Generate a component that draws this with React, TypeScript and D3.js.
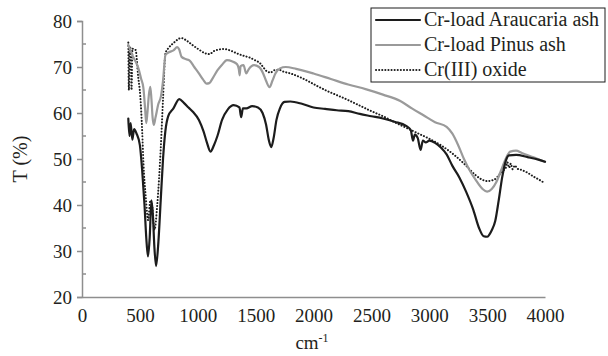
import { useEffect, useRef } from "react";
import * as d3 from "d3";

// [wavenumber (cm-1), transmittance (%)]
const araucariaAsh: [number, number][] = [
  [400, 58.8], [410, 55], [420, 57.8], [435, 54.2], [450, 56.5], [470, 55.6], [500, 53],
  [520, 47.5], [540, 40], [555, 33], [570, 28.8], [585, 33], [600, 41], [612, 38],
  [625, 31], [640, 26.7], [660, 32], [680, 41], [700, 50], [720, 56], [745, 59.3],
  [790, 61], [840, 63], [880, 62.2], [920, 61.2], [960, 60.2], [1010, 58.5], [1050, 56],
  [1080, 53.5], [1110, 51.6], [1140, 53], [1170, 55], [1210, 58.5], [1260, 60.8],
  [1310, 61.7], [1360, 61.2], [1375, 59.1], [1390, 61], [1420, 61], [1470, 61.5],
  [1520, 61.2], [1560, 60], [1590, 57.5], [1615, 54], [1635, 52.6], [1655, 54.5],
  [1680, 58.5], [1710, 61], [1750, 62.4], [1800, 62.5], [1900, 62], [2000, 61.2],
  [2100, 60.9], [2200, 60.6], [2300, 60.4], [2400, 59.8], [2500, 59.3], [2600, 58.8],
  [2700, 58.1], [2800, 57.2], [2840, 56.3], [2860, 54], [2875, 55.3], [2900, 54.6],
  [2925, 52], [2945, 54], [2970, 53.6], [3000, 54], [3050, 53.5], [3100, 52.5],
  [3150, 51], [3200, 48.5], [3260, 46], [3320, 42.8], [3380, 39], [3430, 35],
  [3470, 33.2], [3500, 33.1], [3540, 34.5], [3570, 36.5], [3600, 41], [3630, 46],
  [3660, 49.5], [3690, 50.8], [3750, 50.9], [3850, 50.4], [3950, 49.8], [4000, 49.4],
];

const pinusAsh: [number, number][] = [
  [400, 74.8], [420, 73.5], [440, 72.3], [463, 71.2], [490, 69.5], [510, 67.5],
  [530, 65.5], [545, 61], [555, 57.8], [565, 60], [578, 64], [590, 65.7], [600, 63],
  [610, 59], [620, 57.4], [635, 59], [660, 62], [681, 63.5], [700, 67], [721, 72.6],
  [750, 73.2], [790, 73.6], [822, 74.3], [840, 73.8], [860, 72.2], [900, 71.7],
  [930, 71.4], [970, 70], [1010, 68.6], [1045, 67.3], [1075, 66.4], [1100, 66.5],
  [1130, 67.6], [1171, 69.3], [1210, 70.5], [1252, 71.5], [1300, 71.2], [1340, 70.6],
  [1355, 69.5], [1362, 68.2], [1370, 70.2], [1395, 70.4], [1419, 68.6], [1440, 69.5],
  [1486, 70.4], [1530, 70], [1565, 68.6], [1590, 67], [1620, 65.6], [1645, 67],
  [1671, 68.6], [1710, 69.7], [1760, 70], [1850, 69.6], [2000, 68.6], [2150, 67.4],
  [2300, 66.2], [2450, 65.2], [2600, 64], [2750, 62.6], [2850, 61], [2950, 59.5],
  [3050, 58], [3150, 57], [3200, 55.5], [3250, 53], [3300, 50], [3350, 47.5],
  [3400, 45.5], [3460, 43.5], [3500, 42.9], [3540, 43.5], [3580, 45], [3620, 47.5],
  [3660, 50], [3700, 51.6], [3750, 51.8], [3800, 51.3], [3900, 50.4], [4000, 49.4],
];

const crOxide: [number, number][] = [
  [400, 75.3], [405, 65], [412, 74.5], [420, 73.8], [428, 65], [436, 74], [445, 73.8],
  [463, 73.7], [485, 68], [504, 63.5], [520, 56], [531, 49], [550, 42], [572, 36.7],
  [590, 41], [605, 40], [626, 34.6], [650, 40], [681, 52.7], [700, 63], [721, 73],
  [750, 74.2], [790, 75.2], [858, 76.3], [900, 75.8], [953, 74.8], [1010, 73.8],
  [1062, 73], [1100, 72.8], [1143, 73.5], [1225, 73.9], [1290, 73.5], [1334, 73],
  [1400, 72.4], [1443, 72.1], [1500, 71.4], [1539, 70.8], [1570, 69.8], [1600, 69],
  [1630, 68.8], [1660, 69.3], [1700, 69.4], [1740, 69], [1800, 68.6], [1900, 67.6],
  [2000, 66.3], [2100, 65], [2200, 63.9], [2300, 62.8], [2400, 61.6], [2500, 60.4],
  [2600, 59.3], [2700, 58], [2800, 56.8], [2900, 55.6], [3000, 54.4], [3100, 53],
  [3200, 51.2], [3300, 49], [3400, 46.5], [3450, 45.6], [3500, 45.2], [3560, 45.5],
  [3610, 46.7], [3640, 47.5], [3660, 48], [3675, 49.3], [3690, 48.1], [3705, 49],
  [3720, 47.8], [3740, 48.6], [3760, 47.9], [3800, 47.6], [3850, 47], [3900, 46.2],
  [3950, 45.5], [4000, 44.7],
];

const xTicks = [0, 500, 1000, 1500, 2000, 2500, 3000, 3500, 4000];
const yTicks = [20, 30, 40, 50, 60, 70, 80];
const yMinorTicks = [25, 35, 45, 55, 65, 75];

const seriesNames = ["Cr-load Araucaria ash", "Cr-load Pinus ash", "Cr(III) oxide"];

const FONT = "'Liberation Serif', 'Times New Roman', serif";
const AXIS_GREY = "#8e8e8e";

const styles = [
  { stroke: "#1c1c1c", width: 2.2, dash: null as string | null },
  { stroke: "#9a9a9a", width: 2.2, dash: null as string | null },
  { stroke: "#1c1c1c", width: 2, dash: "0.1 3" },
];

export default function App() {
  const ref = useRef<SVGSVGElement>(null);

  useEffect(() => {
    document.body.style.margin = "0";
    const width = 608;
    const height = 356;

    const svg = d3.select(ref.current).attr("width", width).attr("height", height);
    svg.selectAll("*").remove();

    const xScale = d3.scaleLinear().domain([0, 4000]).range([82, 545]);
    const yScale = d3.scaleLinear().domain([20, 80]).range([297, 21]);

    // y axis: major ticks outside, minor ticks inside (Excel style)
    const yAxis = svg.append("g").attr("transform", `translate(${xScale(0)},0)`)
      .call(d3.axisLeft(yScale).tickValues(yTicks).tickSize(5).tickPadding(5).tickFormat(d3.format("d")));
    yAxis.select(".domain").attr("stroke", AXIS_GREY).attr("stroke-width", 1.5);
    yAxis.selectAll(".tick line").attr("stroke", AXIS_GREY).attr("stroke-width", 1.5);
    yAxis.selectAll(".tick text")
      .attr("font-family", FONT).attr("font-size", 19).attr("fill", "#231f20");

    svg.append("g").selectAll("line")
      .data(yMinorTicks)
      .join("line")
      .attr("x1", xScale(0)).attr("x2", xScale(0) + 4)
      .attr("y1", d => yScale(d)).attr("y2", d => yScale(d))
      .attr("stroke", AXIS_GREY).attr("stroke-width", 1.5);

    // x axis: line only, no tick marks
    const xAxis = svg.append("g").attr("transform", `translate(0,${yScale(20)})`)
      .call(d3.axisBottom(xScale).tickValues(xTicks).tickSize(0).tickPadding(12).tickSizeOuter(0).tickFormat(d3.format("d")));
    xAxis.select(".domain").attr("stroke", AXIS_GREY).attr("stroke-width", 1.5);
    xAxis.selectAll(".tick text")
      .attr("font-family", FONT).attr("font-size", 19).attr("fill", "#231f20");

    // axis titles
    const xTitle = svg.append("text")
      .attr("x", 312).attr("y", 349)
      .attr("text-anchor", "middle")
      .attr("font-family", FONT).attr("font-size", 19).attr("fill", "#231f20");
    xTitle.append("tspan").text("cm");
    xTitle.append("tspan").attr("dy", -7).attr("font-size", 12).text("-1");

    svg.append("text")
      .attr("transform", `translate(27,${(yScale(20) + yScale(80)) / 2}) rotate(-90)`)
      .attr("text-anchor", "middle")
      .attr("font-family", FONT).attr("font-size", 20).attr("fill", "#231f20")
      .text("T (%)");

    const line = d3.line<[number, number]>()
      .x(d => xScale(d[0]))
      .y(d => yScale(d[1]))
      .curve(d3.curveMonotoneX);

    const allSeries = [araucariaAsh, pinusAsh, crOxide];
    const drawOrder = [2, 1, 0];

    svg.append("g").selectAll("path")
      .data(drawOrder)
      .join("path")
      .attr("d", i => line(allSeries[i]))
      .attr("fill", "none")
      .attr("stroke", i => styles[i].stroke)
      .attr("stroke-width", i => styles[i].width)
      .attr("stroke-linecap", "round")
      .attr("stroke-linejoin", "round")
      .attr("stroke-dasharray", i => styles[i].dash);

    // legend box in the top right corner
    const legend = svg.append("g");
    legend.append("rect")
      .attr("x", 371).attr("y", 8).attr("width", 234).attr("height", 74)
      .attr("fill", "#fff").attr("stroke", "#1c1c1c").attr("stroke-width", 1);

    const rows = legend.selectAll("g.row")
      .data(seriesNames)
      .join("g")
      .attr("class", "row")
      .attr("transform", (_, i) => `translate(0,${20 + i * 25})`);

    rows.append("line")
      .attr("x1", 376).attr("x2", 420).attr("y1", 0).attr("y2", 0)
      .attr("stroke", (_, i) => styles[i].stroke)
      .attr("stroke-width", (_, i) => styles[i].width)
      .attr("stroke-linecap", "round")
      .attr("stroke-dasharray", (_, i) => styles[i].dash);

    rows.append("text")
      .attr("x", 424).attr("y", 6)
      .attr("font-family", FONT).attr("font-size", 20).attr("fill", "#231f20")
      .text(d => d);
  }, []);

  return <svg ref={ref} style={{ display: "block" }} />;
}
